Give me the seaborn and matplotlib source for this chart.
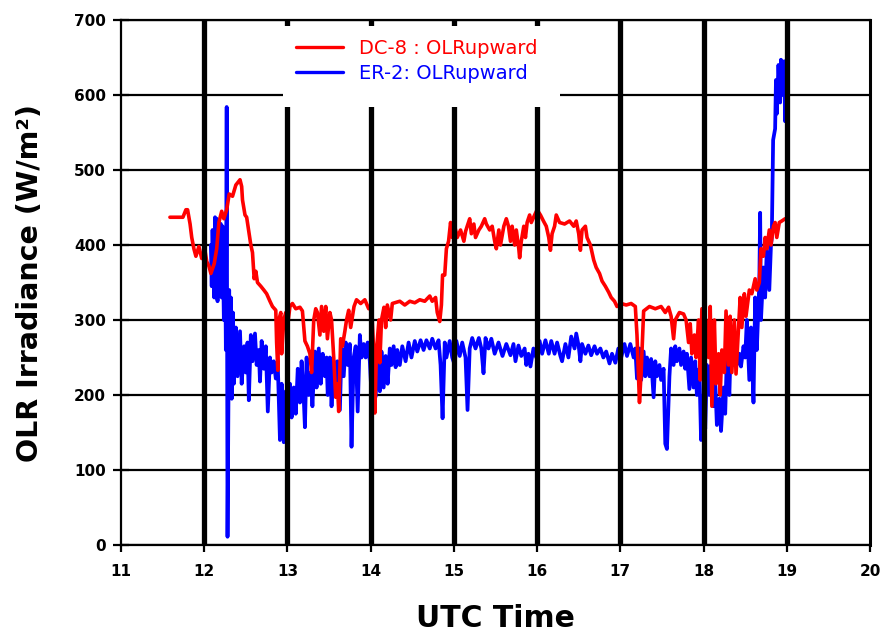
import matplotlib
matplotlib.use("Agg")
import numpy as np
import pandas as pd
import seaborn as sns
import matplotlib.pyplot as plt
from matplotlib.patches import Rectangle
from matplotlib.lines import Line2D

# ---------------- data ----------------
dc8_time = [11.588, 11.744, 11.78, 11.80, 11.83, 11.85, 11.876, 11.90, 11.936, 11.97,
            12.01, 12.03, 12.056, 12.08, 12.12, 12.15, 12.176, 12.21, 12.236, 12.27,
            12.30, 12.34, 12.38, 12.43, 12.45, 12.46, 12.49, 12.51, 12.54, 12.56,
            12.58, 12.60, 12.62, 12.64, 12.68, 12.716, 12.75, 12.79, 12.82, 12.86,
            12.87, 12.884, 12.896, 12.92, 12.93, 12.956, 12.98, 13.004, 13.03, 13.06,
            13.10, 13.15, 13.18, 13.21, 13.24, 13.27, 13.29, 13.316, 13.34, 13.36,
            13.39, 13.41, 13.436, 13.46, 13.48, 13.51, 13.53, 13.556, 13.58, 13.60,
            13.616, 13.64, 13.66, 13.69, 13.71, 13.736, 13.76, 13.80, 13.83, 13.88,
            13.93, 13.976, 14.01, 14.04, 14.05, 14.07, 14.10, 14.11, 14.13, 14.16,
            14.18, 14.20, 14.24, 14.26, 14.35, 14.41, 14.47, 14.53, 14.59, 14.65,
            14.71, 14.74, 14.78, 14.80, 14.83, 14.85, 14.864, 14.89, 14.91, 14.936,
            14.96, 14.98, 15.01, 15.04, 15.08, 15.12, 15.14, 15.16, 15.19, 15.21,
            15.24, 15.26, 15.30, 15.33, 15.37, 15.39, 15.43, 15.46, 15.49, 15.51,
            15.54, 15.56, 15.60, 15.63, 15.656, 15.68, 15.70, 15.73, 15.75, 15.78,
            15.79, 15.81, 15.84, 15.86, 15.88, 15.91, 15.93, 15.97, 16.00, 16.04,
            16.076, 16.11, 16.14, 16.16, 16.18, 16.21, 16.23, 16.27, 16.33, 16.39,
            16.44, 16.47, 16.50, 16.52, 16.54, 16.58, 16.60, 16.64, 16.68, 16.71,
            16.75, 16.78, 16.82, 16.86, 16.89, 16.93, 16.96, 17.01, 17.07, 17.13,
            17.18, 17.20, 17.23, 17.25, 17.28, 17.35, 17.42, 17.49, 17.54, 17.58,
            17.61, 17.64, 17.66, 17.71, 17.76, 17.79, 17.82, 17.84, 17.86, 17.89,
            17.91, 17.94, 17.96, 17.98, 18.01, 18.03, 18.06, 18.08, 18.10, 18.13,
            18.15, 18.18, 18.20, 18.22, 18.25, 18.27, 18.30, 18.32, 18.34, 18.37,
            18.39, 18.42, 18.44, 18.46, 18.49, 18.51, 18.55, 18.58, 18.62, 18.64,
            18.67, 18.69, 18.72, 18.74, 18.76, 18.79, 18.81, 18.84, 18.86, 18.88,
            18.91, 18.94, 18.98]
dc8_olr = [437, 437, 447, 447, 428, 410, 395, 385, 398, 382,
           392, 378, 372, 362, 375, 395, 430, 445, 435, 447,
           468, 465, 480, 487, 478, 460, 440, 437, 415, 400,
           390, 355, 365, 350, 345, 340, 335, 325, 318, 313,
           270, 233, 300, 310, 255, 300, 310, 295, 318, 322,
           315, 317, 312, 272, 265, 255, 230, 300, 315, 310,
           280, 318, 285, 318, 275, 310, 300, 250, 197, 215,
           178, 275, 265, 285, 300, 313, 290, 318, 327, 322,
           327, 315, 320, 250, 176, 260, 300, 243, 300, 317,
           290, 320, 300, 322, 325, 320, 325, 323, 327, 325,
           332, 325, 330, 310, 298, 320, 360, 360, 395, 405,
           430, 410, 425, 410, 420, 405, 418, 425, 435, 415,
           428, 410, 420, 425, 435, 428, 420, 425, 405, 395,
           420, 400, 425, 435, 425, 405, 425, 400, 420, 395,
           383, 405, 425, 410, 430, 440, 430, 440, 447, 440,
           432, 425, 410, 393, 415, 425, 440, 430, 428, 432,
           425, 432, 415, 393, 420, 425, 410, 400, 380, 370,
           362, 352, 345, 337, 330, 325, 318, 322, 320, 322,
           318, 280, 190, 230, 312, 318, 315, 318, 310, 317,
           305, 275, 300, 310, 308, 300, 270, 295, 255, 280,
           250, 300, 220, 315, 240, 300, 250, 318, 185, 300,
           215, 255, 200, 260, 230, 312, 240, 305, 230, 300,
           228, 290, 330, 290, 335, 305, 340, 335, 355, 340,
           350, 395, 385, 410, 395, 420, 400, 425, 430, 410,
           430, 432, 435]

er2_time = [12.08, 12.09, 12.10, 12.12, 12.13, 12.14, 12.15, 12.16, 12.18, 12.19,
            12.20, 12.21, 12.22, 12.236, 12.25, 12.26, 12.27, 12.28, 12.30, 12.31,
            12.32, 12.33, 12.344, 12.356, 12.38, 12.40, 12.43, 12.45, 12.48, 12.50,
            12.52, 12.536, 12.56, 12.58, 12.61, 12.63, 12.656, 12.67, 12.69, 12.716,
            12.74, 12.764, 12.79, 12.81, 12.836, 12.86, 12.884, 12.91, 12.93, 12.956,
            12.98, 13.004, 13.03, 13.05, 13.076, 13.10, 13.124, 13.15, 13.17, 13.196,
            13.21, 13.23, 13.256, 13.28, 13.30, 13.33, 13.35, 13.376, 13.40, 13.424,
            13.45, 13.47, 13.484, 13.51, 13.53, 13.556, 13.58, 13.60, 13.63, 13.65,
            13.676, 13.70, 13.724, 13.75, 13.77, 13.796, 13.82, 13.844, 13.87, 13.89,
            13.916, 13.94, 13.964, 13.99, 14.01, 14.036, 14.06, 14.084, 14.11, 14.13,
            14.156, 14.18, 14.204, 14.23, 14.25, 14.276, 14.30, 14.32, 14.35, 14.38,
            14.42, 14.456, 14.49, 14.53, 14.56, 14.60, 14.636, 14.67, 14.71, 14.74,
            14.78, 14.816, 14.84, 14.864, 14.89, 14.91, 14.95, 14.98, 15.01, 15.03,
            15.07, 15.10, 15.14, 15.164, 15.19, 15.22, 15.26, 15.30, 15.33, 15.356,
            15.38, 15.416, 15.45, 15.49, 15.536, 15.584, 15.63, 15.68, 15.716, 15.74,
            15.776, 15.81, 15.85, 15.87, 15.896, 15.92, 15.956, 15.99, 16.03, 16.06,
            16.10, 16.14, 16.17, 16.21, 16.24, 16.28, 16.30, 16.34, 16.376, 16.41,
            16.45, 16.47, 16.50, 16.52, 16.54, 16.58, 16.616, 16.65, 16.69, 16.72,
            16.76, 16.796, 16.83, 16.87, 16.90, 16.94, 16.976, 17.01, 17.05, 17.08,
            17.12, 17.16, 17.18, 17.20, 17.23, 17.25, 17.28, 17.30, 17.32, 17.35,
            17.37, 17.40, 17.42, 17.44, 17.47, 17.49, 17.52, 17.54, 17.56, 17.59,
            17.61, 17.64, 17.66, 17.68, 17.71, 17.73, 17.76, 17.78, 17.80, 17.83,
            17.85, 17.88, 17.90, 17.92, 17.95, 17.97, 18.00, 18.02, 18.04, 18.07,
            18.09, 18.12, 18.14, 18.16, 18.19, 18.21, 18.24, 18.26, 18.28, 18.31,
            18.33, 18.36, 18.38, 18.40, 18.43, 18.45, 18.48, 18.50, 18.52, 18.55,
            18.57, 18.60, 18.62, 18.64, 18.67, 18.68, 18.69, 18.72, 18.74, 18.76,
            18.79, 18.81, 18.82, 18.836, 18.86, 18.87, 18.88, 18.90, 18.92, 18.93,
            18.956, 18.97, 18.98, 18.99, 19.00]
er2_olr = [400, 345, 420, 330, 437, 330, 435, 325, 430, 335,
           428, 330, 425, 300, 420, 260, 584, 11, 340, 200,
           330, 195, 310, 215, 290, 225, 285, 215, 265, 230,
           270, 193, 280, 245, 282, 240, 260, 218, 272, 235,
           265, 178, 250, 230, 245, 222, 240, 140, 215, 137,
           205, 160, 215, 170, 210, 175, 235, 190, 245, 195,
           157, 250, 200, 230, 185, 258, 210, 262, 215, 255,
           225, 250, 200, 250, 185, 245, 205, 245, 180, 262,
           225, 270, 240, 268, 131, 250, 265, 178, 280, 250,
           268, 250, 270, 245, 200, 260, 198, 255, 205, 258,
           210, 252, 215, 262, 240, 265, 237, 260, 240, 265,
           245, 270, 250, 272, 258, 273, 260, 273, 262, 275,
           262, 273, 240, 169, 270, 250, 272, 250, 240, 272,
           252, 270, 250, 180, 262, 276, 262, 276, 262, 229,
           276, 262, 275, 255, 270, 252, 268, 253, 268, 245,
           266, 252, 262, 240, 255, 238, 262, 250, 272, 255,
           273, 255, 272, 255, 270, 252, 245, 268, 250, 278,
           262, 282, 265, 245, 268, 255, 266, 253, 265, 255,
           262, 250, 258, 242, 255, 243, 262, 250, 268, 252,
           268, 250, 262, 222, 262, 220, 258, 225, 250, 225,
           248, 197, 245, 225, 240, 220, 235, 135, 128, 225,
           262, 240, 265, 245, 262, 240, 258, 235, 255, 208,
           250, 210, 245, 200, 235, 140, 200, 155, 240, 200,
           240, 185, 220, 160, 195, 152, 210, 175, 250, 200,
           280, 240, 275, 240, 255, 238, 265, 250, 300, 220,
           290, 190, 330, 260, 350, 443, 300, 370, 330, 395,
           340, 400, 410, 540, 555, 620, 575, 640, 590, 647,
           600, 645, 565, 590, 575]

x_ticks = [11, 12, 13, 14, 15, 16, 17, 18, 19, 20]
y_ticks = [0, 100, 200, 300, 400, 500, 600, 700]
hour_lines = [12, 13, 14, 15, 16, 17, 18, 19]
series_labels = ["DC-8 : OLRupward", "ER-2: OLRupward"]
series_colors = ["#FF0000", "#0000FF"]
x_label = "UTC Time"
y_label = "OLR Irradiance (W/m²)"

# ---------------- plotting ----------------
sns.set_theme(style="white")
plt.rcParams["font.family"] = ["DejaVu Sans"]

fig = plt.figure(figsize=(8.81, 6.36), dpi=100)
ax = fig.add_axes([121 / 881, 91 / 636, 749 / 881, 525 / 636])

df_dc8 = pd.DataFrame({"t": dc8_time, "v": dc8_olr})
df_er2 = pd.DataFrame({"t": er2_time, "v": er2_olr})

sns.lineplot(data=df_er2, x="t", y="v", ax=ax, color=series_colors[1], lw=2.7,
             estimator=None, sort=False, zorder=3)
sns.lineplot(data=df_dc8, x="t", y="v", ax=ax, color=series_colors[0], lw=2.6,
             estimator=None, sort=False, zorder=3.2)

ax.set_xlim(x_ticks[0], x_ticks[-1])
ax.set_ylim(y_ticks[0], y_ticks[-1])
ax.set_xticks(x_ticks)
ax.set_yticks(y_ticks)

# horizontal grid (beneath the data)
ax.grid(axis="y", color="black", lw=1.6, zorder=1)
ax.grid(axis="x", visible=False)
ax.set_axisbelow(True)

# thick hourly lines drawn on top of the data
for h in hour_lines:
    ax.axvline(h, color="black", lw=3.8, zorder=4)

for s in ax.spines.values():
    s.set_visible(True)
    s.set_color("black")
    s.set_linewidth(1.6)
ax.spines["right"].set_linewidth(2.2)

ax.tick_params(axis="x", direction="out", length=5, width=1.6, color="black",
               pad=9, labelsize=11, bottom=True)
ax.tick_params(axis="y", direction="inout", length=12, width=1.6, color="black",
               pad=5, labelsize=11, left=True)
for lab in ax.get_xticklabels() + ax.get_yticklabels():
    lab.set_fontweight("bold")
    lab.set_color("black")

ax.set_xlabel(x_label, fontsize=21.5, fontweight="bold", color="black")
ax.set_ylabel(y_label, fontsize=20.5, fontweight="bold", color="black")
ax.xaxis.set_label_coords(0.5, -0.112)
ax.yaxis.set_label_coords(-0.103, 0.5)

# white legend area
ax.add_patch(Rectangle((0.216, 0.834), 0.37, 0.155, transform=ax.transAxes,
                       facecolor="white", edgecolor="none", zorder=5))
handles = [Line2D([], [], color=series_colors[0], lw=2.4),
           Line2D([], [], color=series_colors[1], lw=2.4)]
leg = ax.legend(handles, series_labels, loc="upper left", bbox_to_anchor=(0.234, 0.964),
                frameon=False, borderpad=0, borderaxespad=0, handlelength=2.4,
                handletextpad=0.85, labelspacing=0.3, fontsize=14, labelcolor="linecolor")
leg.set_zorder(6)

fig.savefig("out.png", dpi=100)
